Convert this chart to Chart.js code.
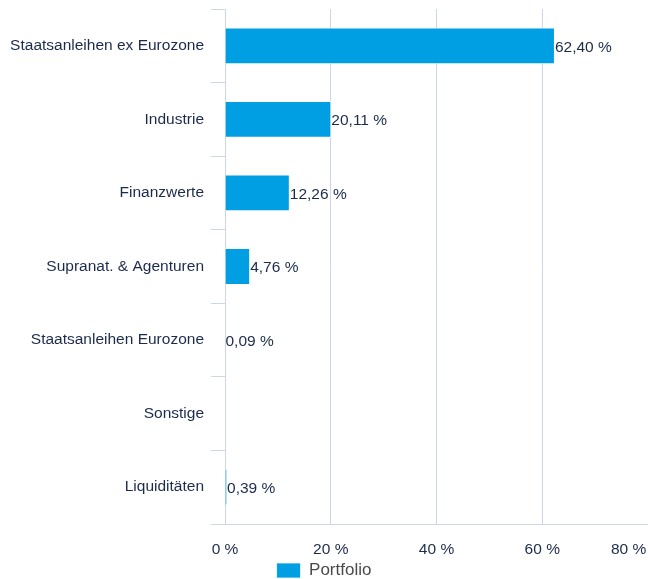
<!DOCTYPE html>
<html>
<head>
<meta charset="utf-8">
<script src="https://cdn.jsdelivr.net/npm/chart.js@4/dist/chart.umd.min.js"></script>
<style>
    html, body { margin: 0; padding: 0; background: #fff; }
    #wrap { width: 648px; height: 579px; }
</style>
</head>
<body>
<div id="wrap"><canvas id="chart"></canvas></div>
<script>
const categories = [
    "Staatsanleihen ex Eurozone",
    "Industrie",
    "Finanzwerte",
    "Supranat. & Agenturen",
    "Staatsanleihen Eurozone",
    "Sonstige",
    "Liquiditäten"
];
const portfolio = [62.40, 20.11, 12.26, 4.76, 0.09, null, 0.39];
const xTicks = [0, 20, 40, 60, 80];

const navy = "#1c2b4c";
const lineColor = "#cbd7e8";
const barColor = "#009ee3";
const fontFamily = "'Liberation Sans', Arial, sans-serif";

// writes "62,40 %" just right of each bar
const valueLabels = {
    id: "valueLabels",
    afterDatasetsDraw(chart) {
        const ctx = chart.ctx;
        const meta = chart.getDatasetMeta(0);
        ctx.save();
        ctx.font = "15.5px " + fontFamily;
        ctx.fillStyle = navy;
        ctx.textAlign = "left";
        ctx.textBaseline = "middle";
        meta.data.forEach((bar, i) => {
            const v = portfolio[i];
            if (v === null || v === undefined) return;
            const text = v.toFixed(2).replace(".", ",") + " %";
            ctx.fillText(text, bar.x, bar.y + 1.5);
        });
        ctx.restore();
    }
};

new Chart(document.getElementById("chart"), {
    type: "bar",
    data: {
        labels: categories,
        datasets: [{
            label: "Portfolio",
            data: portfolio,
            backgroundColor: barColor,
            borderColor: "#ffffff",
            borderWidth: { top: 1, bottom: 1, right: 1, left: 0 },
            borderSkipped: false,
            categoryPercentage: 1,
            barPercentage: 0.5
        }]
    },
    options: {
        indexAxis: "y",
        responsive: true,
        maintainAspectRatio: false,
        animation: false,
        layout: { padding: { top: 9, right: 0, bottom: -10, left: 0 } },
        scales: {
            x: {
                min: 0,
                max: 80,
                afterBuildTicks: scale => {
                    scale.ticks = xTicks.map(v => ({ value: v }));
                },
                afterFit: scale => {
                    scale.height = 37;
                    scale.paddingLeft = 0;
                    scale.paddingRight = 0;
                },
                grid: { color: lineColor, lineWidth: 1, drawTicks: false },
                border: { display: true, color: lineColor, width: 1 },
                ticks: {
                    padding: 16,
                    color: navy,
                    font: { family: fontFamily, size: 15.5 },
                    maxRotation: 0,
                    // last label pulled inside the canvas like the original
                    callback: v => v === 80 ? v + " %" + "\u00a0".repeat(9) : v + " %"
                }
            },
            y: {
                afterFit: scale => {
                    scale.width = 225;
                    scale.paddingTop = 0;
                    scale.paddingBottom = 0;
                },
                grid: {
                    color: lineColor,
                    drawOnChartArea: false,
                    drawTicks: true,
                    tickLength: 14,
                    offset: true
                },
                border: { display: true, color: lineColor, width: 1 },
                ticks: {
                    padding: 7,
                    color: navy,
                    font: { family: fontFamily, size: 15.5 }
                }
            }
        },
        plugins: {
            legend: {
                position: "bottom",
                labels: {
                    boxWidth: 24,
                    boxHeight: 15,
                    padding: 1,
                    color: "#4a4a4a",
                    font: { family: fontFamily, size: 17 }
                }
            },
            tooltip: { enabled: false }
        }
    },
    plugins: [valueLabels]
});
</script>
</body>
</html>
